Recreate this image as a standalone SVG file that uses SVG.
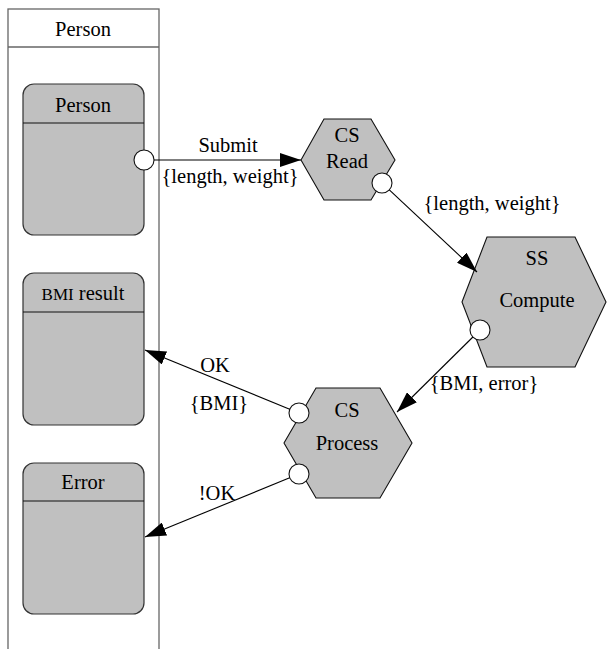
<svg xmlns="http://www.w3.org/2000/svg" width="607" height="649" viewBox="0 0 607 649">
<style>
text{font-family:'Liberation Serif','Times New Roman',Times,'DejaVu Serif','Noto Serif',serif;font-size:20.5px;fill:#000;text-anchor:middle}
.lane{fill:#fff;stroke:#666;stroke-width:1.3}
.box{fill:#c0c0c0;stroke:#333;stroke-width:1.2}
.sep{stroke:#111;stroke-width:1.2}
.hex{fill:#c0c0c0;stroke:#111;stroke-width:1.1}
.port{fill:#fff;stroke:#111;stroke-width:1.1}
.edge{stroke:#000;stroke-width:1.1;fill:none;marker-end:url(#arr)}
</style>
<defs>
<marker id="arr" markerUnits="userSpaceOnUse" markerWidth="21" markerHeight="14" refX="21" refY="7" orient="auto">
<path d="M0,0 L21,7 L0,14 z" fill="#000"/>
</marker>
</defs>
<g id="lane-person">
<rect class="lane" x="8" y="9" width="151" height="660"/>
<line x1="8" y1="47" x2="159" y2="47" stroke="#666" stroke-width="1.3"/>
<text x="83" y="36">Person</text>
</g>
<g id="state-person">
<rect class="box" x="23" y="84" width="121" height="151" rx="11"/>
<line class="sep" x1="23" y1="123" x2="144" y2="123"/>
<text x="83" y="112">Person</text>
<circle class="port" cx="144" cy="160" r="10"/>
</g>
<g id="state-bmi-result">
<rect class="box" x="23" y="273" width="121" height="152" rx="11"/>
<line class="sep" x1="23" y1="312" x2="144" y2="312"/>
<text x="83" y="300"><tspan font-size="17">BMI</tspan> result</text>
</g>
<g id="state-error">
<rect class="box" x="23" y="463" width="121" height="151" rx="11"/>
<line class="sep" x1="23" y1="501" x2="144" y2="501"/>
<text x="83" y="489">Error</text>
</g>
<g id="cs-read">
<polygon class="hex" points="301,160 324,119 371,119 395,160 371,200 324,200"/>
<text x="347" y="142">CS</text>
<text x="347" y="168">Read</text>
<circle class="port" cx="382" cy="183" r="10"/>
</g>
<g id="ss-compute">
<polygon class="hex" points="462,302 487,237 575,237 606,302 575,367 487,367"/>
<text x="537" y="265">SS</text>
<text x="537" y="307">Compute</text>
<circle class="port" cx="480" cy="330" r="10"/>
</g>
<g id="cs-process">
<polygon class="hex" points="284,443 316,388 380,388 412,443 380,498 316,498"/>
<text x="347" y="417">CS</text>
<text x="347" y="450">Process</text>
<circle class="port" cx="299" cy="413" r="10"/>
<circle class="port" cx="299" cy="474" r="10"/>
</g>
<g id="connectors">
<line class="edge" x1="154" y1="160" x2="301" y2="160"/>
<text x="228" y="152">Submit</text>
<text x="230" y="183">{length, weight}</text>
<line class="edge" x1="389.3" y1="189.8" x2="477" y2="272"/>
<text x="492" y="210">{length, weight}</text>
<line class="edge" x1="472.9" y1="337" x2="397" y2="412"/>
<text x="484" y="390">{BMI, error}</text>
<line class="edge" x1="289.7" y1="409.2" x2="145" y2="350"/>
<text x="215" y="372">OK</text>
<text x="219" y="410">{BMI}</text>
<line class="edge" x1="289.7" y1="477.8" x2="145" y2="537"/>
<text x="217" y="500">!OK</text>
</g>
</svg>
